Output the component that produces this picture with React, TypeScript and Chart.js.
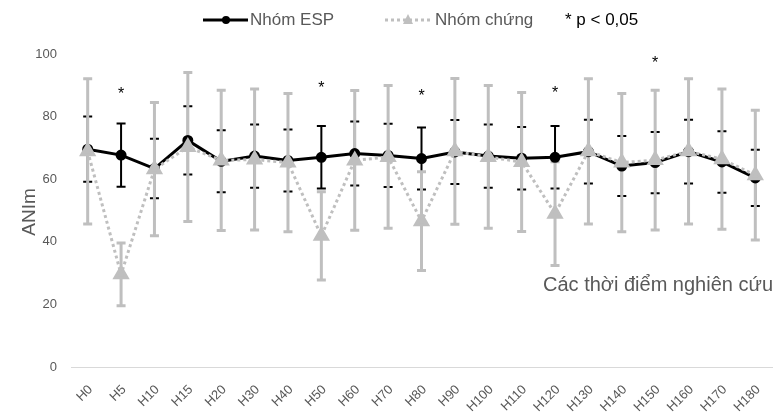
import React, { useEffect, useRef } from 'react';
import { Chart, registerables } from 'chart.js';

Chart.register(...registerables);

const categories = ['H0', 'H5', 'H10', 'H15', 'H20', 'H30', 'H40', 'H50', 'H60', 'H70', 'H80', 'H90', 'H100', 'H110', 'H120', 'H130', 'H140', 'H150', 'H160', 'H170', 'H180'];

const espMean = [69.6, 67.7, 63.4, 72.4, 65.7, 67.4, 66.0, 67.0, 68.2, 67.6, 66.6, 68.7, 67.4, 66.7, 67.0, 68.8, 64.2, 65.3, 68.8, 65.5, 60.4];
const espSD = [10.4, 10.1, 9.5, 10.9, 9.9, 10.1, 9.9, 10.0, 10.2, 10.1, 9.9, 10.2, 10.1, 10.0, 10.0, 10.2, 9.6, 9.8, 10.2, 9.8, 9.0];

const ctrlMean = [68.9, 29.6, 63.2, 70.3, 66.0, 66.3, 65.3, 41.9, 66.0, 67.1, 46.6, 68.9, 67.1, 65.5, 49.0, 68.9, 65.3, 66.1, 68.9, 66.4, 61.3];
const ctrlSD = [23.2, 10.0, 21.3, 23.8, 22.4, 22.5, 22.1, 14.1, 22.3, 22.8, 15.8, 23.3, 22.8, 22.2, 16.6, 23.2, 22.1, 22.3, 23.2, 22.4, 20.7];

const sigCategories = ['H5', 'H50', 'H80', 'H120', 'H150'];
const sigY = [88, 90, 87.5, 88.2, 98];

const yTicks = [0, 20, 40, 60, 80, 100];

const seriesNames = ['Nhóm ESP', 'Nhóm chứng'];
const sigNote = '* p < 0,05';
const yTitle = 'ANIm';
const xTitle = 'Các thời điểm nghiên cứu';

const BLACK = '#000000';
const GRAY = '#bfbfbf';
const TEXT = '#595959';
const FONT = "'Liberation Sans', Arial, sans-serif";

const errorBarPlugin = {
  id: 'errorBars',
  beforeDatasetsDraw(chart: any) {
    const { ctx, scales } = chart;
    const x = scales.x;
    const y = scales.y;
    const drawBars = (means: number[], sds: number[], color: string, width: number) => {
      ctx.save();
      ctx.strokeStyle = color;
      ctx.lineWidth = width;
      ctx.lineCap = 'butt';
      means.forEach((m, i) => {
        const px = x.getPixelForValue(i);
        const top = y.getPixelForValue(m + sds[i]);
        const bot = y.getPixelForValue(m - sds[i]);
        ctx.beginPath();
        ctx.moveTo(px, top);
        ctx.lineTo(px, bot);
        ctx.moveTo(px - 4.5, top);
        ctx.lineTo(px + 4.5, top);
        ctx.moveTo(px - 4.5, bot);
        ctx.lineTo(px + 4.5, bot);
        ctx.stroke();
      });
      ctx.restore();
    };
    drawBars(espMean, espSD, BLACK, 2);
    drawBars(ctrlMean, ctrlSD, GRAY, 3);
  },
};

const annotationsPlugin = {
  id: 'annots',
  afterDraw(chart: any) {
    const { ctx, scales, chartArea } = chart;
    const x = scales.x;
    const y = scales.y;
    ctx.save();
    // significance stars
    ctx.fillStyle = '#000';
    ctx.font = `16px ${FONT}`;
    ctx.textAlign = 'center';
    ctx.textBaseline = 'middle';
    sigCategories.forEach((c, i) => {
      const idx = categories.indexOf(c);
      ctx.fillText('*', x.getPixelForValue(idx), y.getPixelForValue(sigY[i]) + 3);
    });

    // y title
    ctx.save();
    ctx.fillStyle = TEXT;
    ctx.font = `19px ${FONT}`;
    ctx.translate(30, 212);
    ctx.rotate(-Math.PI / 2);
    ctx.textAlign = 'center';
    ctx.textBaseline = 'middle';
    ctx.fillText(yTitle, 0, 0);
    ctx.restore();

    // x title (inside plot, right)
    ctx.fillStyle = TEXT;
    ctx.font = `20px ${FONT}`;
    ctx.textAlign = 'right';
    ctx.textBaseline = 'middle';
    ctx.fillText(xTitle, chartArea.right + 1, y.getPixelForValue(26));

    // legend
    const ly = 20;
    ctx.font = `17px ${FONT}`;
    ctx.textAlign = 'left';
    ctx.textBaseline = 'middle';
    ctx.strokeStyle = BLACK;
    ctx.lineWidth = 3;
    ctx.beginPath();
    ctx.moveTo(203, ly);
    ctx.lineTo(248, ly);
    ctx.stroke();
    ctx.fillStyle = BLACK;
    ctx.beginPath();
    ctx.arc(226, ly, 4, 0, Math.PI * 2);
    ctx.fill();
    ctx.fillStyle = TEXT;
    ctx.fillText(seriesNames[0], 250, ly);

    ctx.strokeStyle = GRAY;
    ctx.lineWidth = 3;
    ctx.setLineDash([3, 3]);
    ctx.beginPath();
    ctx.moveTo(385, ly);
    ctx.lineTo(433, ly);
    ctx.stroke();
    ctx.setLineDash([]);
    ctx.fillStyle = GRAY;
    ctx.beginPath();
    ctx.moveTo(408, ly - 6);
    ctx.lineTo(413, ly + 4);
    ctx.lineTo(403, ly + 4);
    ctx.closePath();
    ctx.fill();
    ctx.fillStyle = TEXT;
    ctx.fillText(seriesNames[1], 435, ly);

    ctx.fillStyle = '#000';
    ctx.fillText(sigNote, 565, ly);
    ctx.restore();
  },
};

export default function App() {
  const ref = useRef<HTMLCanvasElement>(null);
  useEffect(() => {
    document.body.style.margin = '0';
    const chart = new Chart(ref.current as HTMLCanvasElement, {
      type: 'line',
      data: {
        labels: categories,
        datasets: [
          {
            label: seriesNames[0],
            data: espMean,
            borderColor: BLACK,
            backgroundColor: BLACK,
            borderWidth: 3,
            pointStyle: 'circle',
            pointRadius: 4,
            pointBackgroundColor: BLACK,
            pointBorderColor: BLACK,
            tension: 0,
            order: 2,
          },
          {
            label: seriesNames[1],
            data: ctrlMean,
            borderColor: GRAY,
            backgroundColor: GRAY,
            borderWidth: 3,
            borderDash: [3, 3],
            pointStyle: 'triangle',
            pointRadius: 7,
            pointBackgroundColor: GRAY,
            pointBorderColor: GRAY,
            tension: 0,
            order: 1,
          },
        ],
      },
      options: {
        responsive: false,
        animation: false,
        layout: { autoPadding: false, padding: { top: 54, right: 3, left: 0, bottom: 0 } },
        plugins: { legend: { display: false }, tooltip: { enabled: false } },
        scales: {
          x: {
            offset: true,
            grid: { display: false, drawTicks: false },
            border: { display: true, color: '#d9d9d9', width: 1 },
            ticks: {
              color: TEXT,
              font: { family: FONT, size: 13 },
              minRotation: 45,
              maxRotation: 45,
              autoSkip: false,
              padding: 15,
              labelOffset: 3,
            },
            afterFit: (s: any) => { s.height = 46; s.paddingLeft = 0; s.paddingRight = 0; },
          },
          y: {
            min: 0,
            max: 100,
            grid: { display: false, drawTicks: false },
            border: { display: false },
            afterBuildTicks: (s: any) => { s.ticks = yTicks.map((v) => ({ value: v })); },
            ticks: {
              color: TEXT,
              font: { family: FONT, size: 13 },
              padding: 14,
            },
            afterFit: (s: any) => { s.width = 71; s.paddingTop = 0; s.paddingBottom = 0; },
          },
        },
      },
      plugins: [errorBarPlugin, annotationsPlugin],
    });
    return () => chart.destroy();
  }, []);
  return (
    <div style={{ position: 'absolute', left: 0, top: 0, width: 775, height: 413 }}>
      <canvas ref={ref} width={775} height={413} />
    </div>
  );
}
